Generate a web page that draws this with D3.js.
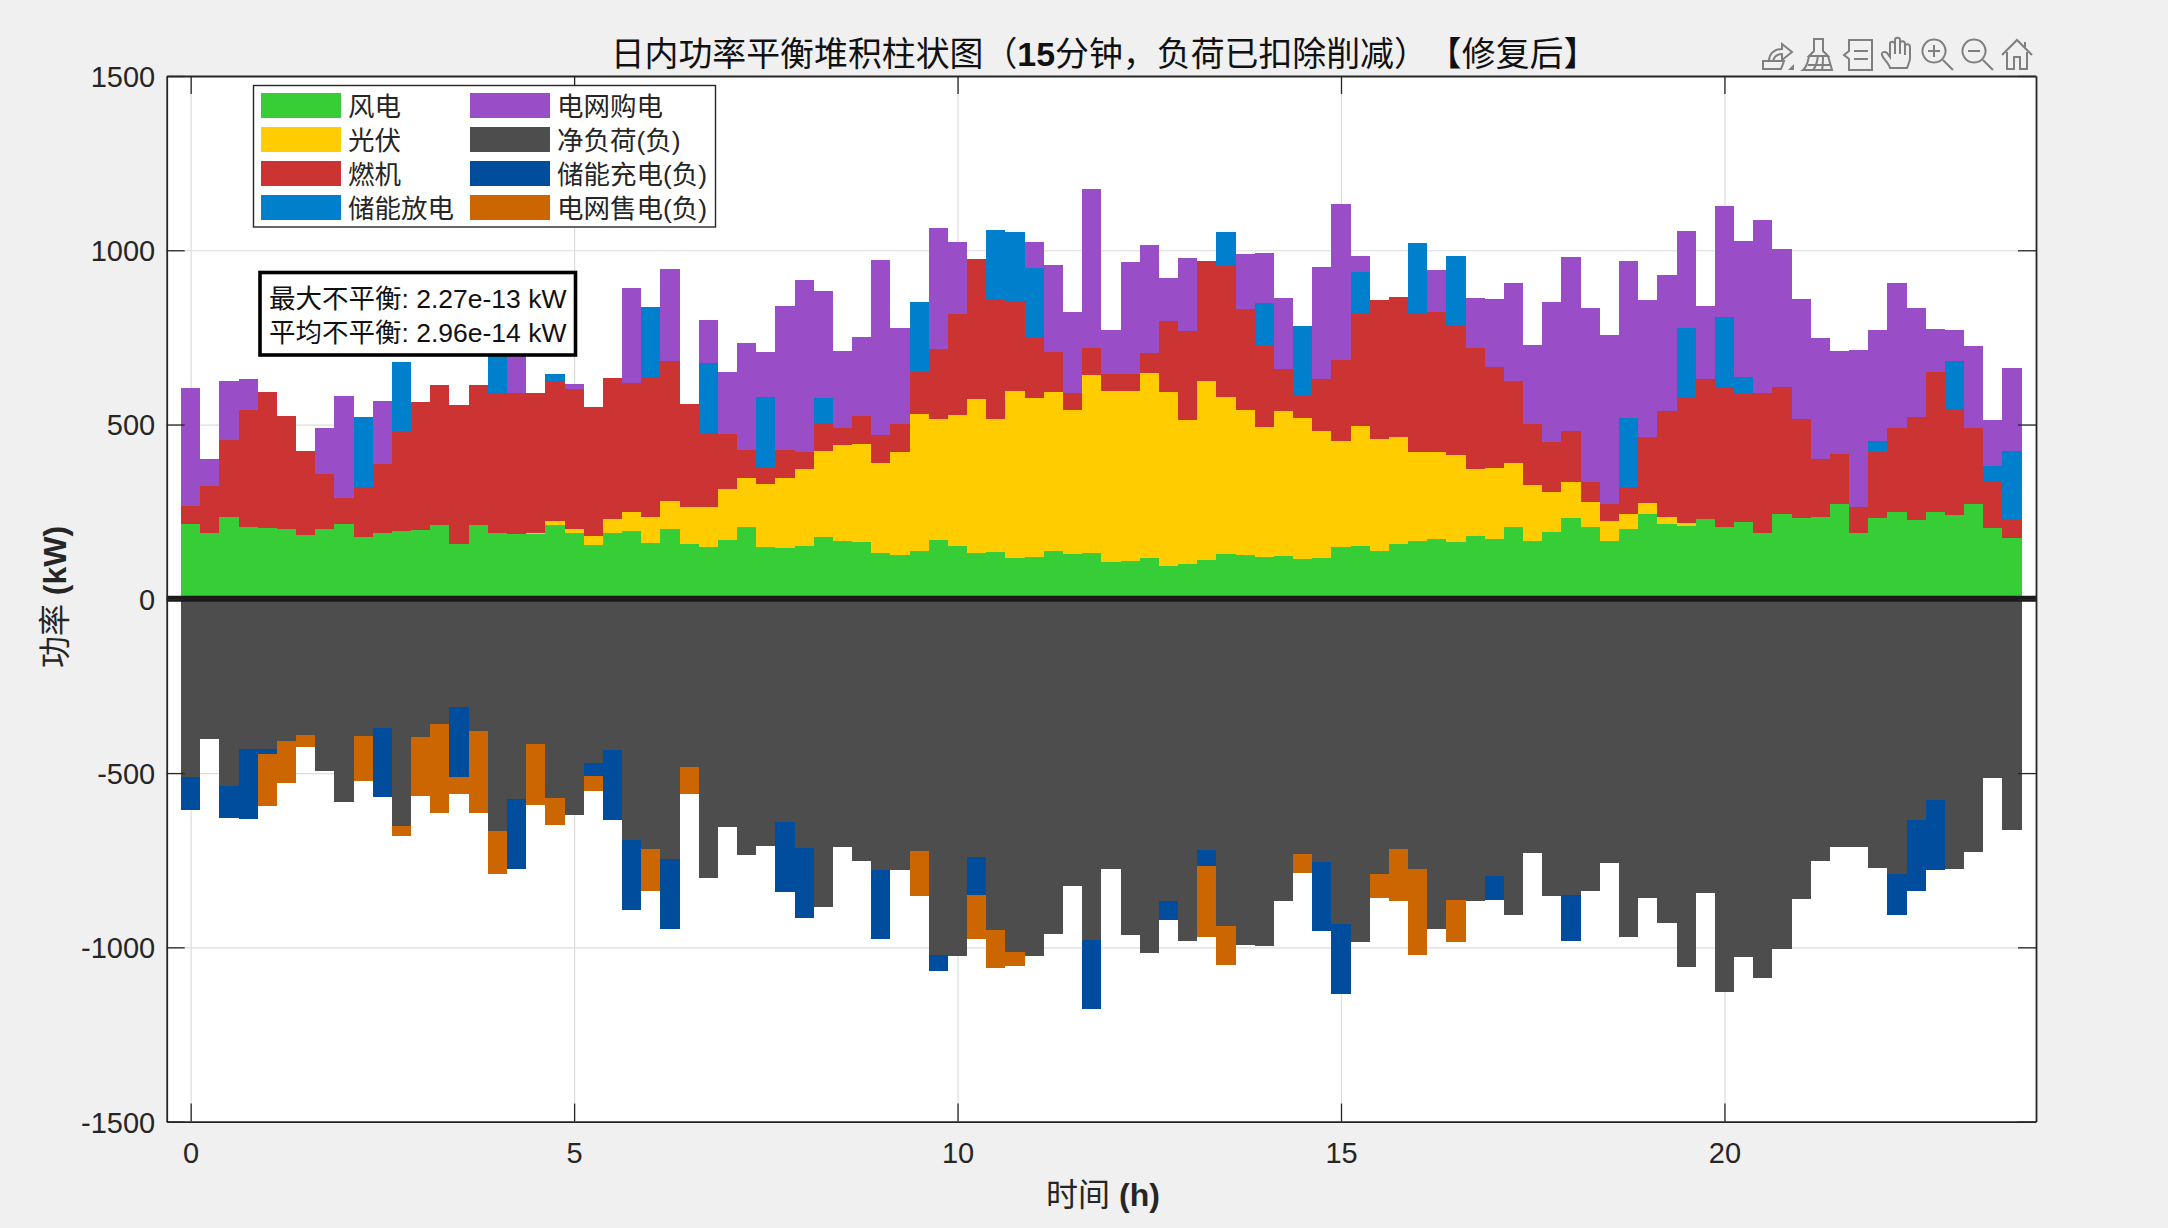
<!DOCTYPE html>
<html>
<head>
<meta charset="utf-8">
<script src="https://cdn.jsdelivr.net/npm/d3@7/dist/d3.min.js"></script>
<style>
html,body{margin:0;padding:0;background:#f0f0f0;}
svg{display:block;}
text{font-family:"Liberation Sans","Noto Sans CJK SC",sans-serif;text-spacing-trim:space-all;}
</style>
</head>
<body>
<svg id="chart" width="2168" height="1228"></svg>
<script>
const time = [0,0.25,0.5,0.75,1,1.25,1.5,1.75,2,2.25,2.5,2.75,3,3.25,3.5,3.75,4,4.25,4.5,4.75,5,5.25,5.5,5.75,
6,6.25,6.5,6.75,7,7.25,7.5,7.75,8,8.25,8.5,8.75,9,9.25,9.5,9.75,10,10.25,10.5,10.75,11,11.25,11.5,11.75,
12,12.25,12.5,12.75,13,13.25,13.5,13.75,14,14.25,14.5,14.75,15,15.25,15.5,15.75,16,16.25,16.5,16.75,17,17.25,17.5,17.75,
18,18.25,18.5,18.75,19,19.25,19.5,19.75,20,20.25,20.5,20.75,21,21.25,21.5,21.75,22,22.25,22.5,22.75,23,23.25,23.5,23.75];

const wind = [216,188,235,207,203,199,183,200,216,178,
189,195,197,213,157,213,188,185,185,213,
188,154,188,195,159,200,156,149,168,205,
149,147,152,176,166,163,130,125,137,168,
151,132,133,116,119,138,128,130,106,108,
116,95,101,111,129,127,121,123,115,118,
149,151,137,157,166,171,164,180,171,207,
166,192,231,207,167,200,242,216,209,230,
207,219,190,242,233,235,272,188,233,248,
225,250,240,272,204,175];

const pv = [0,0,0,0,0,0,0,0,0,0,
0,0,0,0,0,0,0,0,5,11,
12,26,41,54,77,81,106,115,147,142,
180,199,219,248,274,281,261,296,393,347,
376,441,384,480,458,454,413,512,489,489,
533,499,411,515,451,416,371,416,405,364,
304,345,321,308,255,251,249,192,205,184,
161,115,105,72,55,43,32,19,8,0,
0,0,0,0,0,0,0,0,0,0,
0,0,0,0,0,0];

const gas = [50,136,220,335,390,326,241,158,74,142,
197,284,367,399,400,399,402,405,400,399,
401,371,404,371,400,400,297,211,157,80,
50,80,49,78,50,80,78,80,121,203,
290,401,341,256,170,117,50,79,50,48,
57,202,256,342,375,289,234,120,63,148,
232,320,400,400,399,401,371,348,290,233,
175,142,145,57,50,75,189,304,359,401,
400,370,401,367,283,167,143,74,187,242,
296,400,301,218,135,50];

const discharge = [0,0,0,0,0,0,0,0,0,201,
0,199,0,0,0,0,200,0,0,22,
0,0,0,0,200,0,0,201,0,0,
201,0,0,73,0,0,0,0,200,0,
0,0,201,201,201,0,0,0,0,0,
0,0,0,0,96,0,123,0,201,0,
0,122,0,0,201,0,200,0,0,0,
0,0,0,0,0,200,0,0,202,0,
201,46,0,0,0,0,0,0,33,0,
0,0,142,0,42,200];

const buy = [338,77,170,88,0,0,0,133,292,0,
181,0,0,0,0,0,0,170,0,0,
15,0,0,273,0,264,0,124,179,306,
128,413,495,307,222,226,504,277,0,346,
208,0,0,0,77,250,232,455,127,320,
309,125,211,0,0,157,143,203,0,323,
447,45,0,0,0,121,0,144,194,282,
225,402,500,499,484,451,393,389,277,210,
320,392,496,394,344,346,295,451,317,416,
314,124,88,234,132,237];

const netLoad = [-511,-403,-538,-432,-432,-407,-392,-494,-583,-395,
-370,-653,-397,-360,-311,-378,-665,-575,-418,-571,
-619,-470,-435,-693,-719,-746,-483,-801,-654,-735,
-710,-641,-716,-883,-712,-752,-778,-779,-725,-1022,
-1026,-741,-949,-1014,-1026,-961,-825,-978,-775,-966,
-1017,-866,-983,-722,-940,-992,-995,-866,-731,-755,
-934,-985,-791,-719,-774,-947,-863,-867,-796,-907,
-729,-853,-851,-837,-757,-971,-858,-931,-1055,-844,
-1129,-1029,-1088,-1004,-861,-752,-711,-712,-771,-789,
-636,-577,-775,-726,-513,-663];

const charge = [-96,0,-90,-199,-14,0,0,0,0,0,
-199,0,0,0,-200,0,0,-200,0,0,
0,-39,-201,-201,0,-202,0,0,0,0,
0,-201,-199,0,0,0,-199,0,0,-47,
0,-110,0,0,0,0,0,-200,0,0,
0,-57,0,-46,0,0,0,0,0,-199,
-199,0,0,0,0,0,0,0,-67,0,
0,0,-131,0,0,0,0,0,0,0,
0,0,0,0,0,0,0,0,0,-119,
-201,-200,0,0,0,0];

const sale = [0,0,0,0,-149,-121,-34,0,0,-128,
0,-28,-170,-255,-49,-237,-124,0,-174,-77,
0,-42,0,0,-118,0,-78,0,0,0,
0,0,0,0,0,0,0,0,-127,0,
0,-124,-111,-40,0,0,0,0,0,0,
0,0,0,-201,-112,0,0,0,-56,0,
0,0,-68,-148,-248,0,-122,0,0,0,
0,0,0,0,0,0,0,0,0,0,
0,0,0,0,0,0,0,0,0,0,
0,0,0,0,0,0];

const seriesNames = ["风电","光伏","燃机","储能放电","电网购电","净负荷(负)","储能充电(负)","电网售电(负)"];
const seriesColors = ["#37cd37","#ffcc00","#cc3333","#0080cc","#994dc7","#4d4d4d","#004d9e","#cc6600"];
const seriesValues = [wind,pv,gas,discharge,buy,netLoad,charge,sale];
const xTickValues = [0,5,10,15,20];
const yTickValues = [-1500,-1000,-500,0,500,1000,1500];
const titleParts = [["日内功率平衡堆积柱状图（",false],["15",true],["分钟，负荷已扣除削减）【修复后】",false]];
const noteLines = [["最大不平衡: ","2.27e-13 kW"],["平均不平衡: ","2.96e-14 kW"]];

const L=166.7,R=2036,T=76,B=1121.6;
const svg=d3.select("#chart");
const x=d3.scaleLinear().domain([-0.3125,24.0625]).range([L,R]);
const y=d3.scaleLinear().domain([-1500,1500]).range([B,T]);

const rows=time.map((t,i)=>{const r={t};seriesNames.forEach((n,k)=>r[n]=seriesValues[k][i]);return r;});
const stacked=d3.stack().keys(seriesNames).offset(d3.stackOffsetDiverging)(rows);

svg.append("rect").attr("x",L).attr("y",T).attr("width",R-L).attr("height",B-T).attr("fill","#fff");

// grid
const grid=svg.append("g");
grid.append("g").attr("transform",`translate(${L},0)`)
  .call(d3.axisLeft(y).tickValues(yTickValues).tickSize(-(R-L)).tickFormat(""))
  .call(g=>g.select(".domain").remove())
  .call(g=>g.selectAll("line").attr("stroke","#dcdcdc").attr("stroke-width",1.2));
grid.append("g").attr("transform",`translate(0,${B})`)
  .call(d3.axisBottom(x).tickValues(xTickValues).tickSize(-(B-T)).tickFormat(""))
  .call(g=>g.select(".domain").remove())
  .call(g=>g.selectAll("line").attr("stroke","#dcdcdc").attr("stroke-width",1.2));

// bars
const bw=x(0.25)-x(0);
svg.append("g").attr("shape-rendering","crispEdges").selectAll("g").data(stacked).join("g")
  .attr("fill",(d,i)=>seriesColors[i])
  .selectAll("rect").data(d=>d.filter(p=>p[0]!==p[1])).join("rect")
  .attr("x",d=>x(d.data.t)-bw/2)
  .attr("width",bw)
  .attr("y",d=>y(Math.max(d[0],d[1])))
  .attr("height",d=>Math.abs(y(d[0])-y(d[1])));

// zero line
svg.append("line").attr("x1",L).attr("x2",R).attr("y1",y(0)).attr("y2",y(0))
  .attr("stroke","#1a1a1a").attr("stroke-width",6);

// axes
const axisColor="#262626";
function styleAxis(g){
  g.selectAll("line").attr("stroke",axisColor).attr("stroke-width",1.3);
  g.select(".domain").attr("stroke",axisColor).attr("stroke-width",1.8);
  g.selectAll("text").attr("fill",axisColor).style("font-size","29px").style("font-family",'"Liberation Sans",sans-serif');
}
const tick=18;
svg.append("g").attr("transform",`translate(${L},0)`)
  .call(d3.axisLeft(y).tickValues(yTickValues).tickSizeInner(-tick).tickSizeOuter(0).tickPadding(11.5).tickFormat(d=>String(d)))
  .call(styleAxis)
  .call(g=>g.selectAll("text").attr("dy","0.36em"));
svg.append("g").attr("transform",`translate(${R},0)`)
  .call(d3.axisRight(y).tickValues(yTickValues).tickSizeInner(-tick).tickSizeOuter(0).tickFormat(""))
  .call(styleAxis);
svg.append("g").attr("transform",`translate(0,${B})`)
  .call(d3.axisBottom(x).tickValues(xTickValues).tickSizeInner(-tick).tickSizeOuter(0).tickPadding(21).tickFormat(d=>String(d)))
  .call(styleAxis);
svg.append("g").attr("transform",`translate(0,${T})`)
  .call(d3.axisTop(x).tickValues(xTickValues).tickSizeInner(-tick).tickSizeOuter(0).tickFormat(""))
  .call(styleAxis);

// title
const title=svg.append("text").attr("x",1104).attr("y",66).attr("text-anchor","middle")
  .attr("fill","#111").style("font-size","33.9px");
title.selectAll("tspan").data(titleParts).join("tspan")
  .attr("font-weight",d=>d[1]?"bold":"normal").text(d=>d[0]);

// axis labels
const xl=svg.append("text").attr("x",1103).attr("y",1206).attr("text-anchor","middle").attr("fill","#262626").style("font-size","32px");
xl.append("tspan").text("时间 ");
xl.append("tspan").attr("font-weight","bold").text("(h)");
const yl=svg.append("text").attr("transform","translate(66,597) rotate(-90)").attr("text-anchor","middle").attr("fill","#262626").style("font-size","32px");
yl.append("tspan").text("功率 ");
yl.append("tspan").attr("font-weight","bold").text("(kW)");

// legend
const lg=svg.append("g");
lg.append("rect").attr("x",253.5).attr("y",85.5).attr("width",462).attr("height",141.5)
  .attr("fill","#fff").attr("stroke","#262626").attr("stroke-width",1.4);
const legendOrder=seriesNames.map((n,i)=>({n,c:seriesColors[i],col:i<4?0:1,row:i%4}));
const item=lg.selectAll("g").data(legendOrder).join("g")
  .attr("transform",d=>`translate(${d.col?470:261},${93+d.row*34})`);
item.append("rect").attr("width",80).attr("height",25).attr("fill",d=>d.c);
item.append("text").attr("x",87).attr("y",14).attr("dominant-baseline","central")
  .attr("fill","#262626").style("font-size","26.5px").text(d=>d.n);

// annotation
const note=svg.append("g");
note.append("rect").attr("x",260).attr("y",272.5).attr("width",315.5).attr("height",82.5)
  .attr("fill","#fff").attr("stroke","#000").attr("stroke-width",3.6);
const nt=note.selectAll("text").data(noteLines).join("text")
  .attr("x",269).attr("y",(d,i)=>298.5+i*34).attr("dominant-baseline","central")
  .attr("fill","#111").style("font-size","26.5px");
nt.append("tspan").text(d=>d[0]);
nt.append("tspan").text(d=>d[1]);

// toolbar icons
const iconPaths=[
 {x:1762,d:"M1 23h21l-3 8H1zM7 23c0-8 6-12 13-12V6l10 8-10 8v-6c-5 0-8 3-9 7",tri:"M26 32l6-6v6z"},
 {x:1803,d:"M11 1h9v12l5 5H6l5-5zM6 18h19l4 14H0c4-3 5-8 6-14zM10 32c3-3 4-7 5-14M19 32c1-4 1-9 1-14M5 27h23",tri:null},
 {x:1842,d:"M7 2h23v30H7V21l-5-4 5-4zM12 13h14M12 21h14",tri:null},
 {x:1882,d:"M8 30c-1-5-7-9-8-13-1-3 3-4 5-2l3 4V6c0-3 4-3 5 0V2c0-3 5-3 5 0v3c1-3 5-2 5 1v2c1-3 5-2 5 1v11c0 4-2 7-3 10zM13 6v10M18 5v11M23 8v9",tri:null},
 {x:1921,d:"M13 1.5a11.5 11.5 0 1 0 .01 0M22 22l10 10M7 13h12M13 7v12",tri:null},
 {x:1961,d:"M13 1.5a11.5 11.5 0 1 0 .01 0M22 22l10 10M7 13h12",tri:null},
 {x:2001,d:"M1 17L16 2l15 15M6 14v17h7V19h6v12h7V14M24 4v5",tri:null}
];
const icons=svg.append("g").selectAll("g").data(iconPaths).join("g").attr("transform",d=>`translate(${d.x},38)`);
icons.append("path").attr("d",d=>d.d).attr("fill","none").attr("stroke","#7f7f7f").attr("stroke-width",2);
icons.filter(d=>d.tri).append("path").attr("d",d=>d.tri).attr("fill","#7f7f7f");
</script>
</body>
</html>
